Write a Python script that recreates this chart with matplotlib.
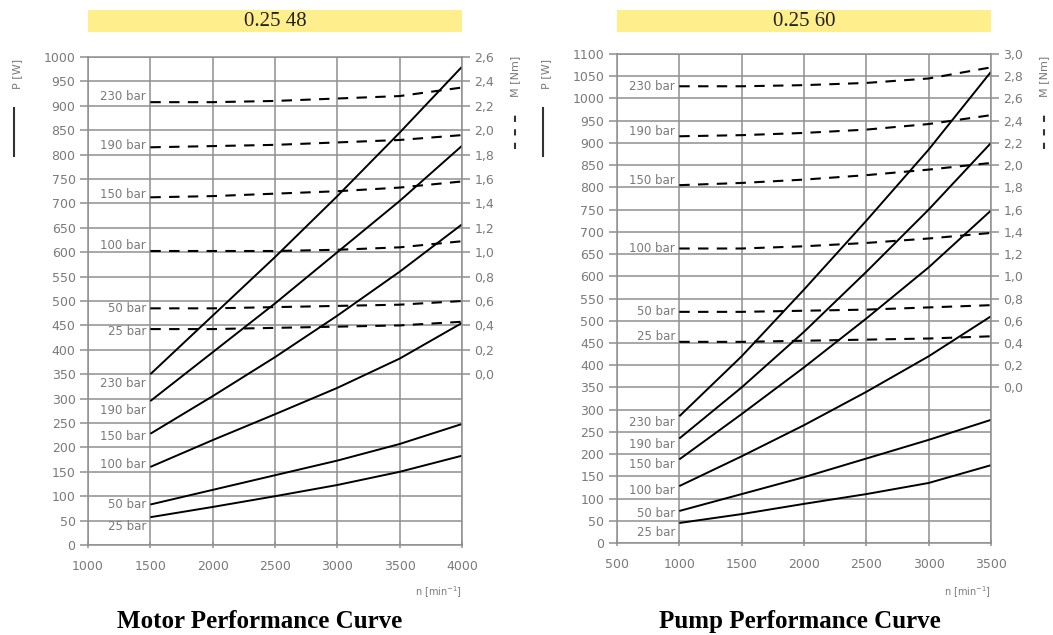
import numpy as np
import matplotlib.pyplot as plt

# motor (0.25 48)
motor_n = [1500, 2000, 2500, 3000, 3500, 4000]
motor_P = {
    '230 bar': [350, 470, 590, 715, 845, 980],
    '190 bar': [295, 395, 495, 600, 705, 818],
    '150 bar': [228, 305, 385, 470, 560, 657],
    '100 bar': [160, 215, 268, 322, 382, 455],
    '50 bar': [83, 113, 143, 173, 207, 248],
    '25 bar': [57, 78, 100, 123, 150, 183],
}
motor_M = {
    '230 bar': [2.23, 2.23, 2.24, 2.26, 2.28, 2.35],
    '190 bar': [1.86, 1.87, 1.88, 1.90, 1.92, 1.96],
    '150 bar': [1.45, 1.46, 1.48, 1.50, 1.53, 1.58],
    '100 bar': [1.01, 1.01, 1.01, 1.02, 1.04, 1.09],
    '50 bar': [0.54, 0.54, 0.55, 0.56, 0.57, 0.60],
    '25 bar': [0.37, 0.37, 0.38, 0.39, 0.40, 0.43],
}

# pump (0.25 60)
pump_n = [1000, 1500, 2000, 2500, 3000, 3500]
pump_P = {
    '230 bar': [285, 420, 570, 725, 885, 1060],
    '190 bar': [235, 350, 475, 610, 750, 900],
    '150 bar': [188, 290, 395, 505, 620, 748],
    '100 bar': [128, 195, 265, 340, 420, 510],
    '50 bar': [72, 110, 148, 190, 232, 277],
    '25 bar': [45, 65, 88, 110, 135, 175],
}
pump_M = {
    '230 bar': [2.71, 2.71, 2.72, 2.74, 2.78, 2.88],
    '190 bar': [2.26, 2.27, 2.29, 2.32, 2.37, 2.45],
    '150 bar': [1.82, 1.84, 1.87, 1.91, 1.96, 2.02],
    '100 bar': [1.25, 1.25, 1.27, 1.30, 1.34, 1.39],
    '50 bar': [0.68, 0.68, 0.69, 0.70, 0.72, 0.74],
    '25 bar': [0.41, 0.41, 0.42, 0.43, 0.44, 0.46],
}

# vertical nudges (points) of the pressure labels
motor_p_dy = [-7, -6.5, -2, 1.5, 0, -7]
motor_m_dy = [4, 1.5, 2, 4, 0, -2]
pump_p_dy = [-4.5, -4.5, -3.5, -3, -1.5, -6.5]
pump_m_dy = [0, 3.5, 3, 0, 0, 3.5]

GRID = '#8f8f8f'
TXT = '#7a7a7a'
FONT = 'DejaVu Sans'


def draw(fig, rect, n, P, M, pdy, mdy, xlim, pmax, mmax, code, caption, cap_x):
    ax = fig.add_axes(rect)
    ax.set_xlim(*xlim)
    ax.set_ylim(0, pmax)
    ax.set_xticks(np.arange(xlim[0], xlim[1] + 1, 500))
    ax.set_yticks(np.arange(0, pmax + 1, 50))
    ax.grid(True, color=GRID, lw=1.1)
    for s in ax.spines.values():
        s.set_color(GRID)
        s.set_linewidth(1.1)
    ax.tick_params(axis='y', colors=GRID, labelcolor=TXT, length=6, width=1.1, labelsize=9, pad=3)
    ax.tick_params(axis='x', colors=GRID, labelcolor=TXT, length=5, width=1.1, direction='inout',
                   labelsize=9, pad=8)
    for lab in ax.get_xticklabels() + ax.get_yticklabels():
        lab.set_family(FONT)

    # torque axis, 0.0 Nm sits at 350 W, 250 W per Nm
    ax2 = ax.twinx()
    ax2.set_ylim(-350 / 250, (pmax - 350) / 250)
    mt = np.round(np.arange(0, mmax + 0.01, 0.2), 1)
    ax2.set_yticks(mt)
    ax2.set_yticklabels([f'{v:.1f}'.replace('.', ',') for v in mt], family=FONT)
    ax2.tick_params(axis='y', colors=GRID, labelcolor=TXT, length=6, width=1.1, labelsize=9, pad=3)
    for s in ax2.spines.values():
        s.set_visible(False)

    for (k, v), dy in zip(P.items(), pdy):
        ax.plot(n, v, color='black', lw=1.4, solid_capstyle='butt')
        ax.annotate(k, xy=(n[0], v[0]), xytext=(-3, dy), textcoords='offset points',
                    ha='right', va='center', fontsize=8.5, color=TXT, family=FONT)
    for (k, v), dy in zip(M.items(), mdy):
        ax2.plot(n, v, color='black', lw=1.5, ls=(0, (5, 4)))
        ax2.annotate(k, xy=(n[0], v[0]), xytext=(-3, dy), textcoords='offset points',
                     ha='right', va='center', fontsize=8.5, color=TXT, family=FONT)

    x0, y0, w, h = rect
    # yellow header bar
    fig.patches.append(plt.Rectangle((x0, 0.9496), w, 0.0346, transform=fig.transFigure,
                                     facecolor='#ffee8c', edgecolor='none'))
    fig.text(x0 + w / 2, 0.966, code, ha='center', va='center', fontsize=15,
             family='Liberation Serif', color='#222222')
    fig.text(cap_x, 0.022, caption, ha='center', va='center', fontsize=18,
             family='Liberation Serif', weight='bold')
    fig.text(x0 + w, 0.068, 'n [min$^{-1}$]', ha='right', va='center', fontsize=7, color=TXT, family=FONT)

    # axis legend marks
    lx = x0 - 0.068
    fig.text(lx + 0.001, 0.883, 'P [W]', rotation=90, ha='center', va='center', fontsize=8,
             color=TXT, family=FONT)
    fig.add_artist(plt.Line2D([lx - 0.002, lx - 0.002], [0.755, 0.83], color='#333333', lw=1.5,
                              transform=fig.transFigure))
    rx = x0 + w + 0.05
    fig.text(rx, 0.880, 'M [Nm]', rotation=90, ha='center', va='center', fontsize=8,
             color=TXT, family=FONT)
    fig.add_artist(plt.Line2D([rx, rx], [0.765, 0.828], color='#333333', lw=1.5, ls=(0, (3, 3.5)),
                              transform=fig.transFigure))
    return ax


fig = plt.figure(figsize=(10.53, 6.35), dpi=100)
draw(fig, [0.0836, 0.1417, 0.3551, 0.7685], motor_n, motor_P, motor_M, motor_p_dy, motor_m_dy,
     (1000, 4000), 1000, 2.6, '0.25 48', 'Motor Performance Curve', 0.247)
draw(fig, [0.5859, 0.1449, 0.3552, 0.7700], pump_n, pump_P, pump_M, pump_p_dy, pump_m_dy,
     (500, 3500), 1100, 3.0, '0.25 60', 'Pump Performance Curve', 0.760)
fig.savefig('out.png', dpi=100)
